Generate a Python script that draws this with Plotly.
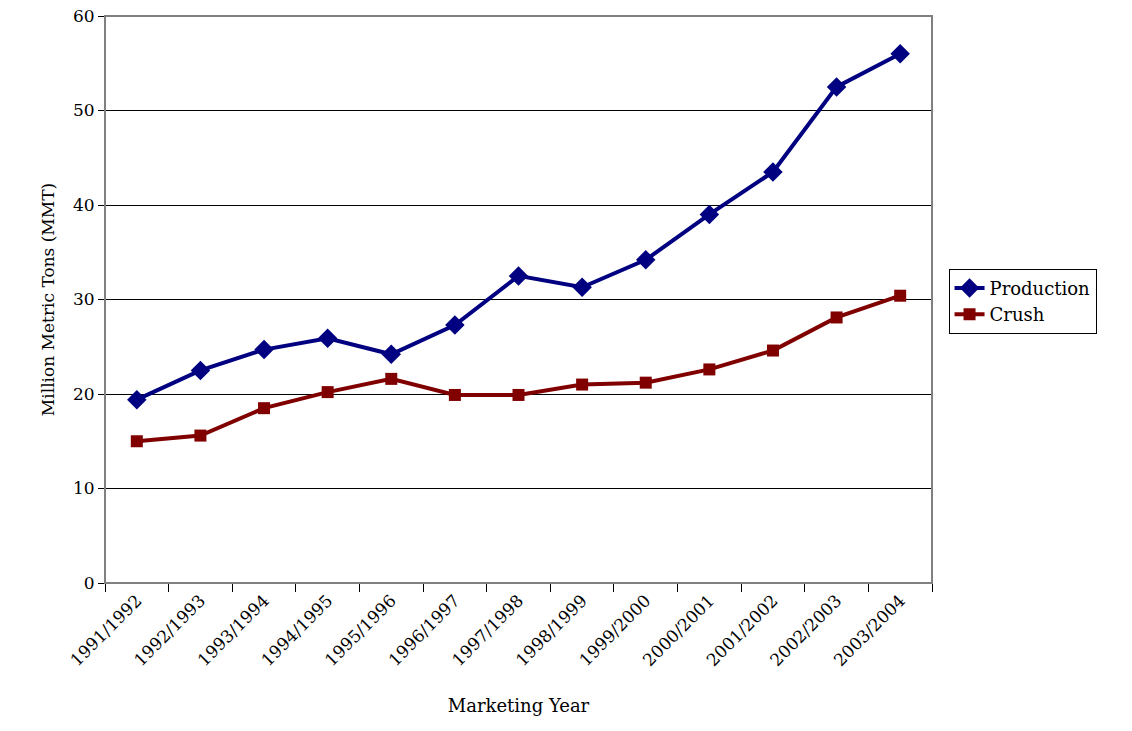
import plotly.graph_objects as go

years = ["1991/1992","1992/1993","1993/1994","1994/1995","1995/1996","1996/1997","1997/1998",
         "1998/1999","1999/2000","2000/2001","2001/2002","2002/2003","2003/2004"]
production = [19.4,22.5,24.7,25.9,24.2,27.3,32.5,31.3,34.2,39.0,43.5,52.5,56.0]
crush = [15.0,15.6,18.5,20.2,21.6,19.9,19.9,21.0,21.2,22.6,24.6,28.1,30.4]

fig = go.Figure()
fig.add_trace(go.Scatter(x=years, y=production, name="Production", mode="lines+markers",
    line=dict(color="#000080", width=4), marker=dict(symbol="diamond", size=15, color="#000080")))
fig.add_trace(go.Scatter(x=years, y=crush, name="Crush", mode="lines+markers",
    line=dict(color="#800000", width=4), marker=dict(symbol="square", size=12, color="#800000")))

font = "Century Schoolbook, DejaVu Serif, Liberation Serif, serif"
fig.update_layout(
    width=1132, height=731, paper_bgcolor="white", plot_bgcolor="white",
    margin=dict(l=105, r=200, t=16, b=148),
    font=dict(family=font, size=17, color="black"),
    xaxis=dict(title=dict(text="Marketing Year", font=dict(size=18), standoff=30), tickangle=-45,
               tickson="boundaries", ticks="outside", ticklen=8, tickcolor="black",
               showline=True, linecolor="black", linewidth=1, showgrid=False,
               range=[-0.5, 12.5], automargin=False, tickfont=dict(size=17)),
    yaxis=dict(title=dict(text="Million Metric Tons (MMT)", font=dict(size=17), standoff=14),
               range=[0, 60], dtick=10, ticks="outside", ticklen=6, tickcolor="black",
               showline=True, linecolor="black", gridcolor="black", gridwidth=1, zeroline=False,
               automargin=False, tickfont=dict(size=17)),
    legend=dict(x=1.02, y=0.497, xanchor="left", yanchor="middle", bordercolor="black",
                borderwidth=1, font=dict(size=18), tracegroupgap=2),
    shapes=[dict(type="rect", xref="paper", yref="paper", x0=0, x1=1, y0=0, y1=1,
                 line=dict(color="#808080", width=2))],
)
fig.write_html("out.html", post_script="document.body.style.margin='0';",
               config={"displayModeBar": False})
